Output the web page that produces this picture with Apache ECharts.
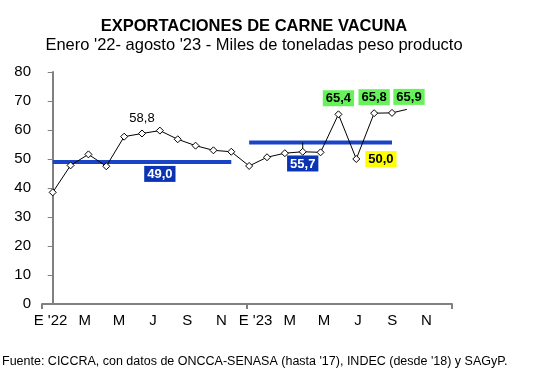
<!DOCTYPE html>
<html>
<head>
<meta charset="utf-8">
<script src="https://cdn.jsdelivr.net/npm/echarts@6/dist/echarts.min.js"></script>
<style>
html,body{margin:0;padding:0;background:#fff;}
#chart{width:546px;height:386px;}
</style>
</head>
<body>
<div id="chart"></div>
<script>
// Month categories (24 months, Jan '22 – Dec '23)
const months = ["E '22","F","M","A","M","J","J","A","S","O","N","D",
                "E '23","F","M","A","M","J","J","A","S","O","N","D"];
// Monthly exports (thousand t product weight), Jan '22 – Aug '23
const exportsValues = [38.5, 47.8, 51.6, 47.5, 57.7, 58.8, 59.8, 56.8, 54.6, 53.0, 52.5, 47.6,
                       50.6, 52.0, 52.5, 52.3, 65.4, 50.0, 65.8, 65.9];
// Period averages
const avg2022 = 49.0;
const avg2023 = 55.7;
// Y ticks
const yMin = 0, yMax = 80, yStep = 10;

const FONT = 'Liberation Sans, Arial, sans-serif';
const blueLine = '#1a44c8';
const blueBox = '#0b34b4';
const green = '#66f25a';
const yellow = '#ffff00';

const fmt = p => p.value[1].toFixed(1).replace('.', ',');
const boxLabel = (bg, color) => ({
  show: true,
  fontFamily: FONT, fontSize: 13, fontWeight: 'bold',
  color: color, backgroundColor: bg,
  padding: [2, 3, 1, 3],
  formatter: fmt
});

const mainData = exportsValues.map((v, i) => {
  const item = { value: [i, v] };
  if (i === 5) item.label = { show: true, position: 'top', distance: 5,
      fontFamily: FONT, fontSize: 13, color: '#000', formatter: fmt };
  if (i === 16 || i === 18) item.label = Object.assign(boxLabel(green, '#000'), { position: 'top', distance: 4 });
  if (i === 17) item.label = Object.assign(boxLabel(yellow, '#000'), { position: 'right', distance: 5 });
  if (i === 19) item.label = Object.assign(boxLabel(green, '#000'), { position: 'top', distance: 4, offset: [17, 0] });
  return item;
});

const n22 = 11, n23start = 11, n23end = exportsValues.length - 1;
const avg1Data = [
  { value: [0, avg2022] },
  { value: [6, avg2022], label: Object.assign(boxLabel(blueBox, '#fff'), { position: 'bottom', distance: 4 }) },
  { value: [n22 - 1, avg2022] }
];
const avg2Data = [
  { value: [n23start, avg2023] },
  { value: [14, avg2023], label: Object.assign(boxLabel(blueBox, '#fff'), { position: 'bottom', distance: 13 }) },
  { value: [n23end, avg2023] }
];
// leader lines joining moved labels to their points
const leader55 = [[14, avg2023], [14, exportsValues[14]]];
const leader65 = [[19, exportsValues[19]], [19.83, exportsValues[19] + 1.2]];

const chart = echarts.init(document.getElementById('chart'), null, { renderer: 'canvas' });
chart.setOption({
  animation: false,
  backgroundColor: '#fff',
  graphic: [
    { type: 'text', x: 254, y: 26, style: { text: 'EXPORTACIONES DE CARNE VACUNA', fill: '#000',
        font: 'bold 16.5px ' + FONT, textAlign: 'center', textVerticalAlign: 'middle' } },
    { type: 'text', x: 254, y: 45, style: { text: "Enero '22- agosto '23 - Miles de toneladas peso producto", fill: '#000',
        font: '16.5px ' + FONT, textAlign: 'center', textVerticalAlign: 'middle' } },
    { type: 'text', x: 2, y: 362, style: { text: "Fuente: CICCRA, con datos de ONCCA-SENASA (hasta '17), INDEC (desde '18) y SAGyP.", fill: '#000',
        font: '12.5px ' + FONT, textAlign: 'left', textVerticalAlign: 'middle' } }
  ],
  grid: { left: 42, right: 94, top: 72, bottom: 82, containLabel: false },
  xAxis: [
    {
      type: 'category', data: months, boundaryGap: true, position: 'bottom',
      axisLine: { lineStyle: { color: '#808080', width: 2 } },
      axisTick: { show: true, length: 5, interval: 11, lineStyle: { color: '#808080', width: 2 } },
      axisLabel: { interval: 1, fontFamily: FONT, fontSize: 15, color: '#000', margin: 9 },
      splitLine: { show: false }
    },
    {
      type: 'value', min: -0.6, max: 22.36, show: false,
      splitLine: { show: false }
    }
  ],
  yAxis: {
    type: 'value', min: yMin, max: yMax, interval: yStep,
    axisLine: { show: true, lineStyle: { color: '#808080', width: 2 } },
    axisTick: { show: true, length: 5, lineStyle: { color: '#808080', width: 1 } },
    axisLabel: { fontFamily: FONT, fontSize: 15, color: '#000', margin: 11 },
    splitLine: { show: false }
  },
  series: [
    {
      type: 'line', xAxisIndex: 1, data: avg1Data, symbol: 'circle', symbolSize: 0, showSymbol: true, z: 2,
      itemStyle: { color: blueLine },
      lineStyle: { color: blueLine, width: 4 }
    },
    {
      type: 'line', xAxisIndex: 1, data: avg2Data, symbol: 'circle', symbolSize: 0, showSymbol: true, z: 2,
      itemStyle: { color: blueLine },
      lineStyle: { color: blueLine, width: 4 }
    },
    {
      type: 'line', xAxisIndex: 1, data: leader55, symbol: 'none', z: 3,
      lineStyle: { color: '#000', width: 1 }
    },
    {
      type: 'line', xAxisIndex: 1, data: leader65, symbol: 'none', z: 3,
      lineStyle: { color: '#000', width: 1 }
    },
    {
      type: 'line', xAxisIndex: 1, data: mainData, z: 4,
      symbol: 'diamond', symbolSize: 7,
      itemStyle: { color: '#fff', borderColor: '#000', borderWidth: 1 },
      lineStyle: { color: '#000', width: 1 }
    }
  ]
});
</script>
</body>
</html>
